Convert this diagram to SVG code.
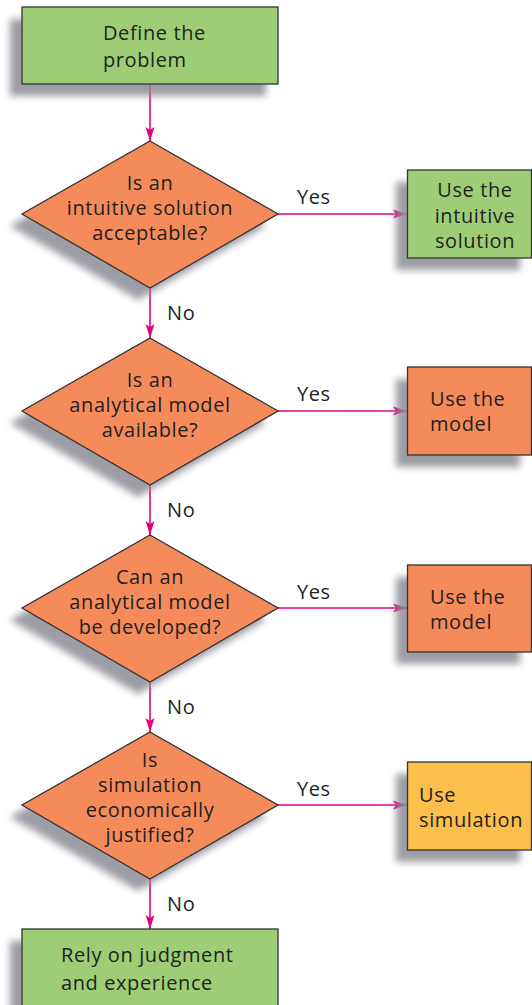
<svg xmlns="http://www.w3.org/2000/svg" width="532" height="1005" viewBox="0 0 532 1005">
  <defs>
    <filter id="shadow" x="-20%" y="-20%" width="140%" height="140%">
      <feGaussianBlur stdDeviation="3.5"/>
    </filter>
    <marker id="arrow" viewBox="0 0 14 10" refX="14" refY="5" markerWidth="14" markerHeight="10" markerUnits="userSpaceOnUse" orient="auto">
      <path d="M0,0.5 L14,5 L0,9.5 L3,5 Z" fill="#e6007e"/>
    </marker>
    <style>
      .sh { fill: #8c8c96; filter: url(#shadow); opacity: 0.85; }
      .green { fill: #9dce76; stroke: #333; stroke-width: 1.3; }
      .orange { fill: #f58b5a; stroke: #333; stroke-width: 1.3; }
      .yellow { fill: #fdbf4c; stroke: #333; stroke-width: 1.3; }
      text { font-family: "Open Sans", "Liberation Sans", sans-serif; font-size: 20px; fill: #231f20; letter-spacing: 0.6px; }
      .c { text-anchor: middle; }
      .edge { stroke: #e6007e; stroke-width: 1.6; fill: none; marker-end: url(#arrow); }
    </style>
  </defs>

  <!-- connectors -->
  <g id="connectors">
    <line class="edge" x1="150" y1="84" x2="150" y2="141"/>
    <line class="edge" x1="150" y1="288" x2="150" y2="338"/>
    <line class="edge" x1="150" y1="485" x2="150" y2="535"/>
    <line class="edge" x1="150" y1="682" x2="150" y2="732"/>
    <line class="edge" x1="150" y1="879" x2="150" y2="929"/>
    <line class="edge" x1="278" y1="214" x2="407" y2="214"/>
    <line class="edge" x1="278" y1="411" x2="407" y2="411"/>
    <line class="edge" x1="278" y1="608" x2="407" y2="608"/>
    <line class="edge" x1="278" y1="805" x2="407" y2="805"/>
    <text x="167" y="320">No</text>
    <text x="167" y="517">No</text>
    <text x="167" y="714">No</text>
    <text x="167" y="911">No</text>
    <text x="297" y="204">Yes</text>
    <text x="297" y="401">Yes</text>
    <text x="297" y="599">Yes</text>
    <text x="297" y="796">Yes</text>
  </g>

  <g id="define">
    <rect class="sh" x="10" y="19" width="256" height="77"/>
    <rect class="green" x="22" y="7" width="256" height="77"/>
    <text x="103" y="40">Define the</text>
    <text x="103" y="67">problem</text>
  </g>

  <g id="q-intuitive">
    <polygon class="sh" points="138,153 266,226 138,300 10,226"/>
    <polygon class="orange" points="150,141 278,214 150,288 22,214"/>
    <text class="c" x="150" y="190">Is an</text>
    <text class="c" x="150" y="215">intuitive solution</text>
    <text class="c" x="150" y="240">acceptable?</text>
  </g>

  <g id="use-intuitive">
    <rect class="sh" x="396" y="182" width="124" height="88"/>
    <rect class="green" x="407.5" y="170" width="124" height="88"/>
    <text class="c" x="475" y="197">Use the</text>
    <text class="c" x="475" y="223">intuitive</text>
    <text class="c" x="475" y="248">solution</text>
  </g>

  <g id="q-available">
    <polygon class="sh" points="138,350 266,423 138,497 10,423"/>
    <polygon class="orange" points="150,338 278,411 150,485 22,411"/>
    <text class="c" x="150" y="387">Is an</text>
    <text class="c" x="150" y="412">analytical model</text>
    <text class="c" x="150" y="437">available?</text>
  </g>

  <g id="use-model-1">
    <rect class="sh" x="396" y="379" width="124" height="88"/>
    <rect class="orange" x="407.5" y="367" width="124" height="88"/>
    <text x="430" y="406">Use the</text>
    <text x="430" y="431">model</text>
  </g>

  <g id="q-developed">
    <polygon class="sh" points="138,547 266,620 138,694 10,620"/>
    <polygon class="orange" points="150,535 278,608 150,682 22,608"/>
    <text class="c" x="150" y="584">Can an</text>
    <text class="c" x="150" y="609">analytical model</text>
    <text class="c" x="150" y="634">be developed?</text>
  </g>

  <g id="use-model-2">
    <rect class="sh" x="396" y="577" width="124" height="87"/>
    <rect class="orange" x="407.5" y="565" width="124" height="87"/>
    <text x="430" y="604">Use the</text>
    <text x="430" y="629">model</text>
  </g>

  <g id="q-simulation">
    <polygon class="sh" points="138,744 266,817 138,891 10,817"/>
    <polygon class="orange" points="150,732 278,805 150,879 22,805"/>
    <text class="c" x="150" y="767">Is</text>
    <text class="c" x="150" y="792">simulation</text>
    <text class="c" x="150" y="817">economically</text>
    <text class="c" x="150" y="842">justified?</text>
  </g>

  <g id="use-simulation">
    <rect class="sh" x="396" y="774" width="124" height="88"/>
    <rect class="yellow" x="407.5" y="762" width="124" height="88"/>
    <text x="419" y="802">Use</text>
    <text x="419" y="827">simulation</text>
  </g>

  <g id="judgment">
    <rect class="sh" x="10" y="941" width="256" height="80"/>
    <rect class="green" x="22" y="929" width="256" height="90"/>
    <text x="61" y="962">Rely on judgment</text>
    <text x="61" y="990">and experience</text>
  </g>
</svg>
